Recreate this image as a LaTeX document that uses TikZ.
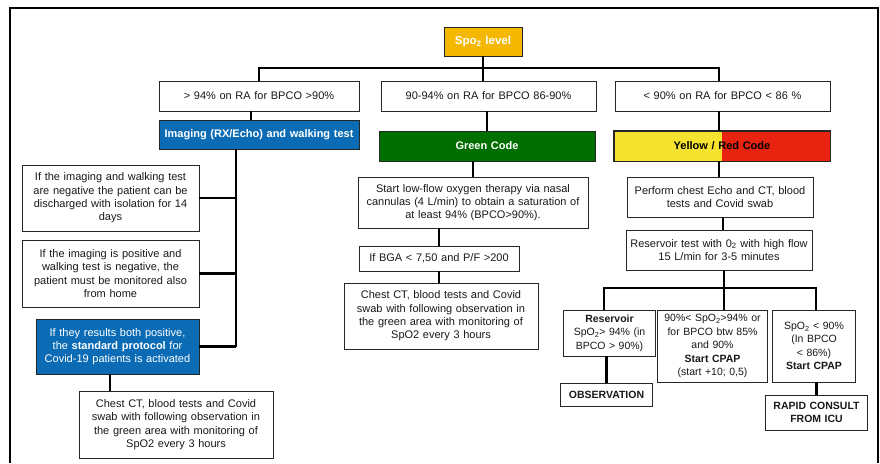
\documentclass[tikz,border=0pt]{standalone}
\usepackage{fontspec}
\setmainfont{Liberation Sans}
\definecolor{spoor}{HTML}{F5B800}
\definecolor{cblue}{HTML}{0B6CB5}
\definecolor{cgreen}{HTML}{006F00}
\definecolor{cyel}{HTML}{F4E22F}
\definecolor{cred}{HTML}{E8230F}
\begin{document}
\begin{tikzpicture}[x=1pt,y=-1pt,
  box/.style={draw=black!85, line width=0.9pt, fill=white, inner xsep=2pt, inner ysep=1pt, align=center, font=\fontsize{11}{13.3}\selectfont, text=black!90},
  smallbox/.style={box, font=\fontsize{10.5}{13.5}\selectfont},
  colbox/.style={box, text=white, font=\fontsize{11}{13.3}\selectfont\bfseries},
  sz/.style n args={3}{minimum width=#1pt, minimum height=#2pt, text width=#3pt},
  conn/.style={line width=2.2pt, draw=black}]
\useasboundingbox (0,0) rectangle (880,463);
\draw[line width=2pt] (10,463) -- (10,8) -- (878,8) -- (878,463);

% top
\node[colbox, fill=spoor, sz={78}{29}{74}, font=\fontsize{11.5}{13}\selectfont\bfseries] (spo) at (483,41.5) {Spo\textsubscript{2} level};
\node[box, sz={200}{30}{196}] (A) at (259,96) {> 94\% on RA for BPCO >90\%};
\node[box, sz={215}{30}{211}] (B) at (488.5,96) {90-94\% on RA for BPCO 86-90\%};
\node[box, sz={215}{30}{211}] (C) at (722.5,96) {< 90\% on RA for BPCO < 86 \%};

% second row
\node[colbox, fill=cblue, sz={200}{29}{196}] (img) at (259,134.5) {Imaging (RX/Echo) and walking test};
\node[colbox, fill=cgreen, sz={216}{30}{212}] (green) at (487,146) {Green Code};
\node[box, fill=cred, sz={216}{30}{212}, font=\fontsize{11}{13.3}\selectfont\bfseries, text=black,
  path picture={\fill[cyel] (path picture bounding box.south west) rectangle (path picture bounding box.north);}] (yr) at (722,146) {Yellow / Red Code};
\draw[draw=black!85, line width=0.9pt] (yr.south west) rectangle (yr.north east);

% middle column
\node[box, sz={230}{51}{226}] (low) at (473,202.5) {Start low-flow oxygen therapy via nasal\\cannulas (4 L/min) to obtain a saturation of\\at least 94\% (BPCO>90\%).};
\node[box, sz={160}{25}{156}] (bga) at (439,258.5) {If BGA < 7,50 and P/F >200};
\node[box, sz={194}{66}{190}] (ctm) at (441,316) {Chest CT, blood tests and Covid\\swab with following observation in\\the green area with monitoring of\\SpO2 every 3 hours};

% right column
\node[box, sz={186}{40}{182}] (echo) at (720,197) {Perform chest Echo and CT, blood\\tests and Covid swab};
\node[box, sz={186}{40}{182}] (res) at (719,250) {Reservoir test with 0\textsubscript{2} with high flow\\15 L/min for 3-5 minutes};
\node[smallbox, sz={91}{46}{88}] (r1) at (609.5,333) {\textbf{Reservoir}\\SpO\textsubscript{2}> 94\% (in\\BPCO > 90\%)};
\node[smallbox, sz={91}{23}{88}, font=\fontsize{10.5}{13}\selectfont\bfseries] (obs) at (606.5,394.5) {OBSERVATION};
\node[smallbox, sz={109}{72}{106}] (r2) at (712.5,346) {90\%< SpO\textsubscript{2}>94\% or\\for BPCO btw 85\%\\and 90\%\\\textbf{Start CPAP}\\(start +10; 0,5)};
\node[smallbox, sz={82}{72}{79}] (r3) at (814,346) {SpO\textsubscript{2} < 90\%\\(In BPCO\\< 86\%)\\\textbf{Start CPAP}};
\node[smallbox, sz={101}{35}{98}, font=\fontsize{10.5}{13}\selectfont\bfseries] (rapid) at (816.5,412.5) {RAPID CONSULT\\FROM ICU};

% left column
\node[box, sz={177}{66}{173}] (L1) at (110.5,198) {If the imaging and walking test\\are negative the patient can be\\discharged with isolation for 14\\days};
\node[box, sz={177}{67}{173}] (L2) at (110.5,273.5) {If the imaging is positive and\\walking test is negative, the\\patient must be monitored also\\from home};
\node[colbox, fill=cblue, sz={163}{55}{159}, font=\fontsize{11}{13.3}\selectfont] (L3) at (117.5,346.5) {If they results both positive,\\the \textbf{standard protocol} for\\Covid-19 patients is activated};
\node[box, sz={194}{67}{190}] (ctl) at (176,424.5) {Chest CT, blood tests and Covid\\swab with following observation in\\the green area with monitoring of\\SpO2 every 3 hours};

% connectors top
\coordinate (bar) at (0,68);
\coordinate (cb) at (719,68);
\draw[conn] (spo.south) -- (spo.south |- bar);
\draw[conn] (A.north) -- (A.north |- bar) -- (cb) -- (cb |- C.north);
\draw[conn] (spo.south |- bar) -- (spo.south |- B.north);
\coordinate (ad) at (251,0);
\draw[conn] (ad |- A.south) -- (ad |- img.north);
\draw[conn] (green.north) -- (green.north |- B.south);
\coordinate (cd) at (719,0);
\draw[conn] (cd |- C.south) -- (cd |- yr.north);
\draw[conn] (low.north) -- (low.north |- green.south);
\draw[conn] (bga.north) -- (bga.north |- low.south);
\draw[conn] (bga.south) -- (bga.south |- ctm.north);
\draw[conn] (cd |- yr.south) -- (cd |- echo.north);
\coordinate (ed) at (723,0);
\draw[conn] (ed |- echo.south) -- (ed |- res.north);
\coordinate (rb) at (724,288);
\coordinate (rb1) at (604,288);
\coordinate (rb3) at (816,288);
\draw[conn] (rb |- res.south) -- (rb |- r2.north);
\draw[conn] (rb1 |- r1.north) -- (rb1) -- (rb3) -- (rb3 |- r3.north);
\draw[conn] (obs.north) -- (obs.north |- r1.south);
\draw[conn] (rapid.north) -- (rapid.north |- r3.south);
% left
\coordinate (lv) at (236,347);
\draw[conn] (lv |- img.south) -- (lv);
\draw[conn] (L1.east) -- (L1.east -| lv);
\draw[conn] (L2.east) -- (L2.east -| lv);
\draw[conn] (L3.east) -- (L3.east -| lv);
\coordinate (ld) at (110,0);
\draw[conn] (ld |- L3.south) -- (ld |- ctl.north);
\end{tikzpicture}
\end{document}
